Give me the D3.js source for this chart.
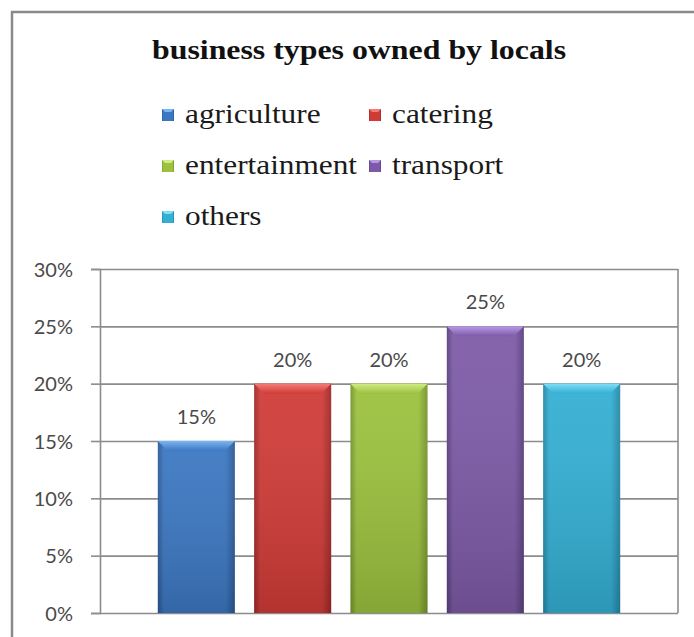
<!DOCTYPE html>
<html>
<head>
<meta charset="utf-8">
<script src="https://cdn.jsdelivr.net/npm/d3@7"></script>
<style>
  html, body { margin: 0; padding: 0; background: #fff; }
  svg { display: block; }
  .serif { font-family: "Liberation Serif", "Times New Roman", serif; }
  .sans { font-family: Lato, "Open Sans", sans-serif; }
</style>
</head>
<body>
<svg id="chart" width="694" height="637"></svg>
<script>
// Share of local business types
const series = ["agriculture", "catering", "entertainment", "transport", "others"];
const values = [0.15, 0.20, 0.20, 0.25, 0.20];
const yTicks = [0, 0.05, 0.10, 0.15, 0.20, 0.25, 0.30];
const titleText = "business types owned by locals";

// Base, edge and highlight tones for each series
const baseColors = ["#3b77c2", "#d03b37", "#9bc13d", "#7d5aa7", "#33afd3"];
const edgeColors = ["#2a5893", "#9c2826", "#74942c", "#5a3f80", "#2486a5"];
const lightColors = ["#7ab6f2", "#f47c78", "#d0ec84", "#b898e4", "#80def6"];

const svg = d3.select("#chart");
const W = 694, H = 637;
const plot = { left: 100, right: 678, top: 269, bottom: 613 };

// Outer chart frame (runs off the right and bottom edges)
svg.append("rect")
  .attr("x", 12).attr("y", 12)
  .attr("width", W + 20).attr("height", H + 20)
  .attr("fill", "#fff")
  .attr("stroke", "#8a8a8a").attr("stroke-width", 2.5);

const x = d3.scaleBand()
  .domain(series)
  .range([plot.left, plot.right])
  .paddingInner(0.2)
  .paddingOuter(0.6);

const y = d3.scaleLinear()
  .domain([0, 0.30])
  .range([plot.bottom, plot.top]);

// Gradients giving the bevelled look of each column
const defs = svg.append("defs");
series.forEach((s, i) => {
  const g = defs.append("linearGradient")
    .attr("id", "grad" + i)
    .attr("x1", "0%").attr("x2", "100%").attr("y1", "0%").attr("y2", "0%");
  g.append("stop").attr("offset", "0%").attr("stop-color", edgeColors[i]);
  g.append("stop").attr("offset", "8%").attr("stop-color", baseColors[i]);
  g.append("stop").attr("offset", "88%").attr("stop-color", baseColors[i]);
  g.append("stop").attr("offset", "100%").attr("stop-color", edgeColors[i]);

  const v = defs.append("linearGradient")
    .attr("id", "shade" + i)
    .attr("x1", "0%").attr("x2", "0%").attr("y1", "0%").attr("y2", "100%");
  v.append("stop").attr("offset", "0%").attr("stop-color", "#fff").attr("stop-opacity", 0.06);
  v.append("stop").attr("offset", "100%").attr("stop-color", "#000").attr("stop-opacity", 0.14);

  const t = defs.append("linearGradient")
    .attr("id", "top" + i)
    .attr("x1", "0%").attr("x2", "0%").attr("y1", "0%").attr("y2", "100%");
  t.append("stop").attr("offset", "0%").attr("stop-color", lightColors[i]);
  t.append("stop").attr("offset", "100%").attr("stop-color", baseColors[i]);
});

// Horizontal gridlines
svg.append("g")
  .attr("transform", `translate(${plot.left},0)`)
  .call(d3.axisLeft(y).tickValues(yTicks).tickSize(-(plot.right - plot.left)).tickFormat(""))
  .call(g => g.select(".domain").remove())
  .call(g => g.selectAll("line").attr("stroke", "#8c8c8c").attr("stroke-width", 1.6));

// Right border of the plot area
svg.append("line")
  .attr("x1", plot.right).attr("x2", plot.right)
  .attr("y1", y(0.30)).attr("y2", y(0))
  .attr("stroke", "#8c8c8c").attr("stroke-width", 1.6);

// Y axis with percentage labels
svg.append("g")
  .attr("transform", `translate(${plot.left},0)`)
  .call(d3.axisLeft(y).tickValues(yTicks).tickSize(9).tickPadding(18)
    .tickFormat(d3.format(".0%")))
  .call(g => g.attr("font-family", null).attr("font-size", null))
  .call(g => g.select(".domain").attr("stroke", "#8c8c8c").attr("stroke-width", 1.6))
  .call(g => g.selectAll(".tick line").attr("stroke", "#8c8c8c").attr("stroke-width", 1.6))
  .call(g => g.selectAll(".tick text")
    .attr("class", "sans")
    .attr("fill", "#4a4a4a")
    .style("font-size", "20px")
    .attr("dy", "0.36em"));

// Columns
const bars = svg.append("g").selectAll("g.bar")
  .data(series.map((s, i) => ({ s, v: values[i], i })))
  .join("g").attr("class", "bar");

bars.append("rect")
  .attr("x", d => x(d.s))
  .attr("y", d => y(d.v))
  .attr("width", x.bandwidth())
  .attr("height", d => y(0) - y(d.v))
  .attr("fill", d => `url(#grad${d.i})`);

bars.append("rect")
  .attr("x", d => x(d.s))
  .attr("y", d => y(d.v))
  .attr("width", x.bandwidth())
  .attr("height", d => y(0) - y(d.v))
  .attr("fill", d => `url(#shade${d.i})`);

// Light bevel along the top of each column
bars.append("path")
  .attr("d", d => {
    const x0 = x(d.s), x1 = x0 + x.bandwidth(), t = y(d.v), b = 10;
    return `M${x0},${t}L${x1},${t}L${x1 - b},${t + b}L${x0 + b},${t + b}Z`;
  })
  .attr("fill", d => `url(#top${d.i})`);

// Value labels above columns
bars.append("text")
  .attr("class", "sans")
  .attr("x", d => x(d.s) + x.bandwidth() / 2)
  .attr("y", d => y(d.v) - 17)
  .attr("text-anchor", "middle")
  .attr("fill", "#4a4a4a")
  .style("font-size", "20px")
  .text(d => d3.format(".0%")(d.v));

// Title (set slightly wide)
svg.append("text")
  .attr("class", "serif")
  .attr("transform", "translate(359,59) scale(1.18,1)")
  .attr("text-anchor", "middle")
  .style("font-weight", "bold")
  .style("font-size", "27px")
  .attr("fill", "#111")
  .text(titleText);

// Legend: two columns, three rows
const legendCols = [162, 369];
const legendRows = [123, 174, 225];
const legend = svg.append("g").selectAll("g.item")
  .data(series.map((s, i) => ({ s, i })))
  .join("g").attr("class", "item")
  .attr("transform", d => `translate(${legendCols[d.i % 2]},${legendRows[Math.floor(d.i / 2)]})`);

legend.append("rect")
  .attr("x", 0).attr("y", -14)
  .attr("width", 12).attr("height", 12)
  .attr("fill", d => `url(#grad${d.i})`);
legend.append("path")
  .attr("d", "M0,-14L12,-14L9,-11L3,-11Z")
  .attr("fill", d => lightColors[d.i]);

legend.append("text")
  .attr("class", "serif")
  .attr("transform", "translate(23,0) scale(1.16,1)")
  .style("font-size", "27px")
  .attr("fill", "#1a1a1a")
  .text(d => d.s);
</script>
</body>
</html>
